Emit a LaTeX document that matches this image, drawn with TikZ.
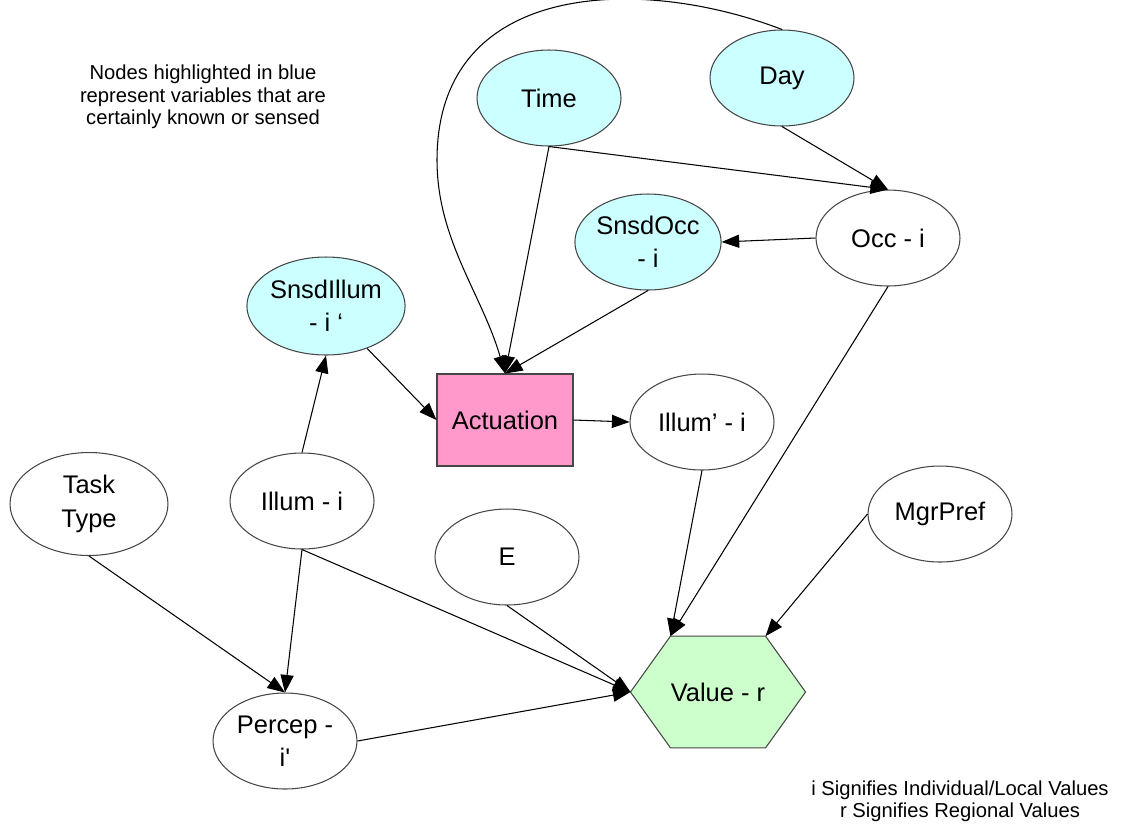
\documentclass[tikz,border=0pt]{standalone}
\usepackage{fontspec}
\setmainfont{Liberation Sans}
\usetikzlibrary{arrows.meta,calc,backgrounds,shapes.geometric}
\definecolor{sensed}{RGB}{204,255,255}
\definecolor{actpink}{RGB}{255,153,204}
\definecolor{valgreen}{RGB}{204,255,204}
\definecolor{rim}{RGB}{70,70,70}

\begin{document}
\begin{tikzpicture}[x=0.02cm, y=-0.02cm,
    var/.style={ellipse, draw=rim, line width=0.6pt, minimum width=2.88cm, minimum height=1.92cm, inner sep=0pt, align=center, font=\fontsize{14.5}{19}\selectfont},
    known/.style={var, fill=sensed},
    edge/.style={line width=0.6pt, -{Triangle[length=10pt,width=7.5pt]}},
    note/.style={align=center, font=\fontsize{11.5}{12.8}\selectfont}]
    \useasboundingbox (0,0) rectangle (1121,826);

    \node [note] (legendtop) at (203,97) {Nodes highlighted in blue\\represent variables that are\\certainly known or sensed};
    \node [note] (legendbot) at (960,801) {i Signifies Individual/Local Values\\r Signifies Regional Values};

    \node [known] (time) at (549,98) {Time};
    \node [known] (day) at (782,78) {Day};
    \node [known] (snsdocc) at (648,242) {SnsdOcc\\- i};
    \node [var] (occ) at (888,238) {Occ - i};
    \node [known, minimum width=3.1cm, minimum height=1.96cm] (snsdillum) at (326,306) {SnsdIllum\\- i ‘};
    \node [rectangle, draw=rim, fill=actpink, line width=0.6pt, minimum width=2.72cm, minimum height=1.84cm, font=\fontsize{14.5}{19}\selectfont] (act) at (505,420) {Actuation};
    \node [var] (illump) at (702,422) {Illum’ - i};
    \node [var, minimum width=3.16cm, minimum height=2.06cm] (task) at (89,504) {Task\\Type};
    \node [var] (illum) at (302,501) {Illum - i};
    \node [var] (e) at (507,557) {E};
    \node [var] (mgr) at (940,514) {MgrPref};
    \node [var] (percep) at (285,741) {Percep -\\i\textquotesingle};

    \node [rectangle, minimum width=1.62cm, minimum height=2.22cm, inner sep=0pt, font=\fontsize{14.5}{19}\selectfont] (val) at (718,692) {Value - r};
    \coordinate (valL) at ($(val.west)+(-40,0)$);
    \coordinate (valR) at ($(val.east)+(40,0)$);
    \begin{scope}[on background layer]
        \filldraw [draw=rim, fill=valgreen, line width=0.6pt] (val.north west) -- (val.north east) -- (valR) -- (val.south east) -- (val.south west) -- (valL) -- cycle;
    \end{scope}

    \coordinate (bend) at (437,160);
    \draw [edge] (day.north) .. controls (640,-25) and (437,-20) .. (bend) .. controls (437,240) and (482,294) .. (act.north);
    \draw [edge] (time.south) -- (act.north);
    \draw [edge] (snsdocc.south) -- (act.north);
    \draw [edge] (time.south) -- (occ.north);
    \draw [edge] (day.south) -- (occ.north);
    \draw [edge] (occ.west) -- (snsdocc.east);
    \draw [edge] (illum.north) -- (snsdillum.south);
    \draw [edge] (snsdillum) -- (act.west);
    \draw [edge] (act.east) -- (illump.west);
    \draw [edge] (illump.south) -- (val.north west);
    \draw [edge] (occ.south) -- (val.north west);
    \draw [edge] (mgr.west) -- (val.north east);
    \draw [edge] (e.south) -- (valL);
    \draw [edge] (illum.south) -- (valL);
    \draw [edge] (percep.east) -- (valL);
    \draw [edge] (illum.south) -- (percep.north);
    \draw [edge] (task.south) -- (percep.north);
\end{tikzpicture}
\end{document}
